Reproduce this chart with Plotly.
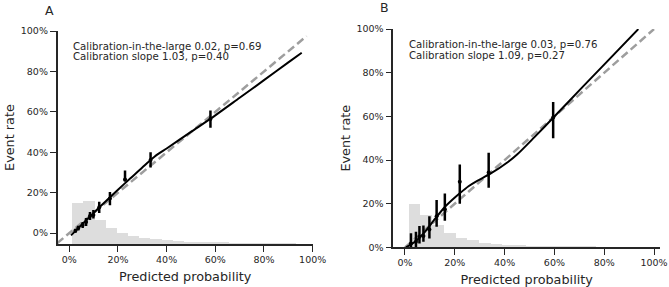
"""Calibration plots (A and B) with loess-style curve, grouped observed rates and prediction histogram."""

import plotly.graph_objects as go

# ---- panel A ----
a_pred = [0.025, 0.037, 0.055, 0.069, 0.085, 0.099, 0.123, 0.167, 0.229, 0.334, 0.580]
a_obs = [0.012, 0.025, 0.040, 0.055, 0.085, 0.090, 0.128, 0.171, 0.265, 0.362, 0.565]
a_ci_lo = [0.002, 0.013, 0.025, 0.035, 0.065, 0.072, 0.100, 0.138, 0.255, 0.325, 0.522]
a_ci_hi = [0.022, 0.037, 0.055, 0.075, 0.105, 0.115, 0.155, 0.204, 0.310, 0.400, 0.607]

a_curve_x = [0.007, 0.05, 0.10, 0.15, 0.20, 0.25, 0.30, 0.35, 0.40, 0.50, 0.60, 0.70, 0.80, 0.90, 0.955]
a_curve_y = [-0.011, 0.040, 0.100, 0.158, 0.215, 0.270, 0.325, 0.378, 0.419, 0.501, 0.583, 0.670, 0.757, 0.845, 0.893]

a_ref = [-0.05, 0.975]

a_bin_mid = [0.033, 0.079, 0.125, 0.171, 0.217, 0.263, 0.309, 0.355, 0.401, 0.447,
             0.493, 0.539, 0.585, 0.631, 0.677, 0.723, 0.769, 0.815, 0.861, 0.907]
a_bin_height = [0.204, 0.212, 0.118, 0.080, 0.052, 0.039, 0.031, 0.023, 0.019, 0.015,
                0.012, 0.010, 0.008, 0.006, 0.004, 0.003, 0.002, 0.002, 0.001, 0.001]

a_text = ["Calibration-in-the-large 0.02, p=0.69", "Calibration slope 1.03, p=0.40"]

# ---- panel B ----
b_pred = [0.024, 0.044, 0.058, 0.074, 0.098, 0.127, 0.160, 0.220, 0.336, 0.595]
b_obs = [0.018, 0.026, 0.049, 0.052, 0.082, 0.143, 0.174, 0.300, 0.343, 0.595]
b_ci_lo = [0.000, 0.000, 0.018, 0.026, 0.041, 0.094, 0.122, 0.200, 0.273, 0.500]
b_ci_hi = [0.064, 0.072, 0.098, 0.100, 0.143, 0.217, 0.247, 0.380, 0.433, 0.666]

b_curve_x = [0.004, 0.04, 0.08, 0.12, 0.16, 0.19, 0.22, 0.255, 0.29, 0.34, 0.415, 0.45, 0.52, 0.596, 0.70, 0.79, 0.937]
b_curve_y = [0.000, 0.026, 0.071, 0.130, 0.185, 0.218, 0.248, 0.280, 0.305, 0.335, 0.392, 0.425, 0.505, 0.595, 0.719, 0.826, 1.000]

b_ref = [0.0, 1.0]

b_bin_mid = [0.0395, 0.0865, 0.1335, 0.1805, 0.2275, 0.2745, 0.3215, 0.3685, 0.4155,
             0.4625, 0.5095, 0.5565, 0.6035, 0.6505, 0.6975, 0.7445, 0.7915, 0.8385]
b_bin_height = [0.200, 0.150, 0.101, 0.066, 0.041, 0.031, 0.021, 0.015, 0.011,
                0.008, 0.006, 0.005, 0.004, 0.003, 0.002, 0.002, 0.001, 0.001]

b_text = ["Calibration-in-the-large 0.03, p=0.76", "Calibration slope 1.09, p=0.27"]

tick_vals = [0, 0.2, 0.4, 0.6, 0.8, 1.0]
tick_text = ["0%", "20%", "40%", "60%", "80%", "100%"]

INK = "#262626"
FONT = "DejaVu Sans"

fig = go.Figure()


def add_panel(xa, ya, pred, obs, lo, hi, cx, cy, ref, bin_mid, bin_h, bin_w, base):
    fig.add_trace(go.Bar(
        x=bin_mid, y=bin_h, base=base, width=bin_w,
        marker=dict(color="#dddddd", line=dict(width=0)),
        xaxis=xa, yaxis=ya, showlegend=False, hoverinfo="skip",
    ))
    fig.add_trace(go.Scatter(
        x=ref, y=ref, mode="lines",
        line=dict(color="#9e9e9e", width=2.5, dash="8px,4px"),
        xaxis=xa, yaxis=ya, showlegend=False,
    ))
    fig.add_trace(go.Scatter(
        x=cx, y=cy, mode="lines",
        line=dict(color="black", width=2, shape="spline", smoothing=0.8),
        xaxis=xa, yaxis=ya, showlegend=False,
    ))
    fig.add_trace(go.Scatter(
        x=pred, y=obs, mode="markers",
        marker=dict(color="black", size=4),
        error_y=dict(
            type="data", symmetric=False,
            array=[h - o for h, o in zip(hi, obs)],
            arrayminus=[o - l for o, l in zip(obs, lo)],
            color="black", thickness=2.5, width=0,
        ),
        xaxis=xa, yaxis=ya, showlegend=False,
    ))


add_panel("x", "y", a_pred, a_obs, a_ci_lo, a_ci_hi, a_curve_x, a_curve_y, a_ref,
          a_bin_mid, a_bin_height, 0.046, -0.054)
add_panel("x2", "y2", b_pred, b_obs, b_ci_lo, b_ci_hi, b_curve_x, b_curve_y, b_ref,
          b_bin_mid, b_bin_height, 0.047, 0.0)

axis_common = dict(
    showgrid=False, zeroline=False, showline=True, linecolor=INK, linewidth=1.5,
    ticks="outside", ticklen=6, tickwidth=1.2, tickcolor=INK,
    tickvals=tick_vals, ticktext=tick_text,
    tickfont=dict(family=FONT, size=9.5, color=INK),
    automargin=False,
)
xtitle = dict(text="Predicted probability", font=dict(family=FONT, size=12.8, color=INK), standoff=8)
ytitle = dict(text="Event rate", font=dict(family=FONT, size=12.8, color=INK), standoff=3)

fig.update_layout(
    width=669, height=287, autosize=False,
    margin=dict(l=57, r=9, t=28, b=39),
    paper_bgcolor="white", plot_bgcolor="white",
    font=dict(family=FONT, color=INK),
    bargap=0,
    xaxis=dict(domain=[0.001, 0.424], range=[-0.048, 1.0], anchor="y", title=xtitle, **axis_common),
    yaxis=dict(domain=[0.018, 0.986], range=[-0.054, 1.0], anchor="x", title=ytitle, **axis_common),
    xaxis2=dict(domain=[0.5577, 1.0], range=[-0.047, 1.024], anchor="y2", title=xtitle, **axis_common),
    yaxis2=dict(domain=[0.003, 0.995], range=[0.0, 1.0], anchor="x2", title=ytitle, **axis_common),
)

# calibration statistics
for xr, yr, lines, ys in [("x", "y", a_text, [0.925, 0.874]), ("x2", "y2", b_text, [0.930, 0.881])]:
    for line, yv in zip(lines, ys):
        fig.add_annotation(
            x=0.007, y=yv, xref=xr, yref=yr, text=line, showarrow=False,
            xanchor="left", yanchor="middle",
            font=dict(family=FONT, size=10.2, color=INK),
        )

# panel letters
for label, px_x, px_y in [("A", 49, 10), ("B", 384, 7)]:
    fig.add_annotation(
        x=(px_x - 57) / 603, y=1 - (px_y - 28) / 220, xref="paper", yref="paper",
        text=label, showarrow=False, xanchor="center", yanchor="middle",
        font=dict(family=FONT, size=12.5, color=INK),
    )

# drop the browser's default 8px body margin so the figure sits at the page corner
fig.write_html(
    "out.html",
    config={"displayModeBar": False},
    post_script="document.body.style.margin = '0px';",
)
